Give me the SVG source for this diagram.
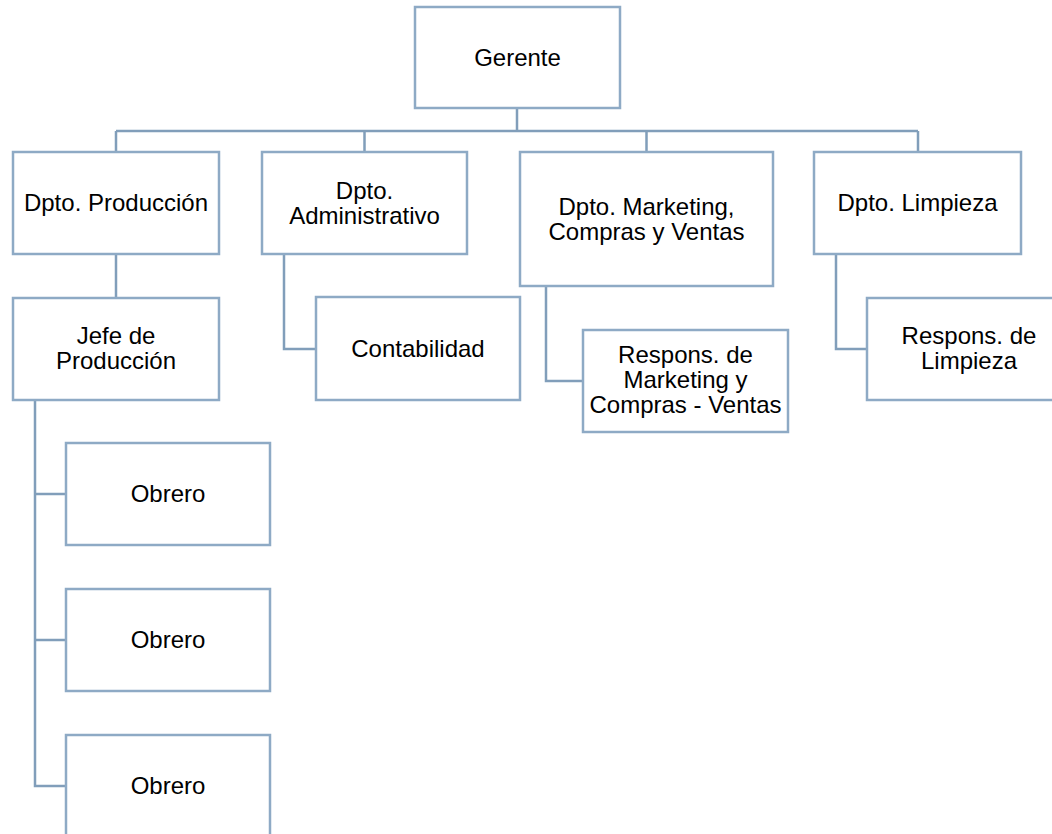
<svg xmlns="http://www.w3.org/2000/svg" width="1052" height="834" viewBox="0 0 1052 834">
<style>
.box{fill:#fff;stroke:#8eaac5;stroke-width:2.5}
.ln{fill:none;stroke:#819eba;stroke-width:2.5}
text{font-family:"Liberation Sans",Arial,sans-serif;font-size:24px;fill:#000;text-anchor:middle}
</style>
<rect width="1052" height="834" fill="#fff"/>
<g id="connectors">
<path class="ln" d="M517 108V131M116 131H918M116 131V152M364.5 131V152M646.5 131V152M918 131V152"/>
<path class="ln" d="M116 254V298"/>
<path class="ln" d="M284 254V349H316"/>
<path class="ln" d="M546 286V381H583"/>
<path class="ln" d="M836 254V349H867"/>
<path class="ln" d="M35 400V786H66M35 494H66M35 640H66"/>
</g>
<g id="gerente"><rect class="box" x="415" y="7" width="205" height="101"/><text x="517.5" y="66">Gerente</text></g>
<g id="produccion"><rect class="box" x="13" y="152" width="206" height="102"/><text x="116" y="211">Dpto. Producción</text></g>
<g id="administrativo"><rect class="box" x="262" y="152" width="205" height="102"/><text x="364.5" y="199">Dpto.</text><text x="364.5" y="224">Administrativo</text></g>
<g id="marketing"><rect class="box" x="520" y="152" width="253" height="134"/><text x="646.5" y="215">Dpto. Marketing,</text><text x="646.5" y="240">Compras y Ventas</text></g>
<g id="limpieza"><rect class="box" x="814" y="152" width="207" height="102"/><text x="917.5" y="211">Dpto. Limpieza</text></g>
<g id="jefe"><rect class="box" x="13" y="298" width="206" height="102"/><text x="116" y="344">Jefe de</text><text x="116" y="369">Producción</text></g>
<g id="contabilidad"><rect class="box" x="316" y="297" width="204" height="103"/><text x="418" y="357">Contabilidad</text></g>
<g id="resp-marketing"><rect class="box" x="583" y="330" width="205" height="102"/><text x="685.5" y="363">Respons. de</text><text x="685.5" y="388">Marketing y</text><text x="685.5" y="413">Compras - Ventas</text></g>
<g id="resp-limpieza"><rect class="box" x="867" y="298" width="205" height="102"/><text x="969" y="344">Respons. de</text><text x="969" y="369">Limpieza</text></g>
<g id="obrero1"><rect class="box" x="66" y="443" width="204" height="102"/><text x="168" y="502">Obrero</text></g>
<g id="obrero2"><rect class="box" x="66" y="589" width="204" height="102"/><text x="168" y="648">Obrero</text></g>
<g id="obrero3"><rect class="box" x="66" y="735" width="204" height="102"/><text x="168" y="794">Obrero</text></g>
</svg>
